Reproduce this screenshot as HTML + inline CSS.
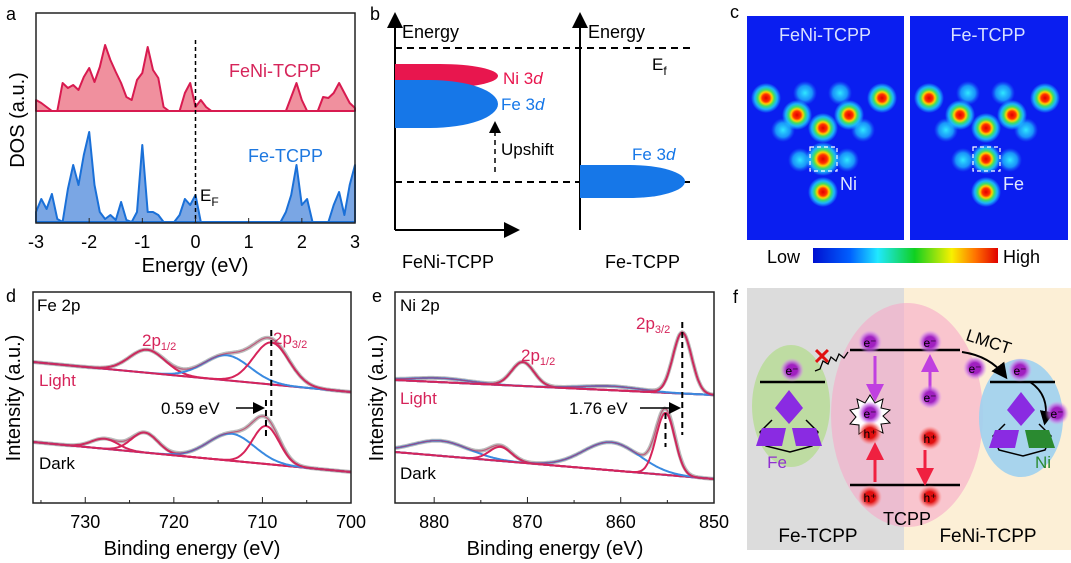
<!DOCTYPE html>
<html><head><meta charset="utf-8"><style>
body{margin:0;background:#fff}
svg{display:block;font-family:"Liberation Sans",Arial,sans-serif}
</style></head><body>
<svg id="fig" width="1071" height="563" viewBox="0 0 1071 563" xmlns="http://www.w3.org/2000/svg">
<defs>
<radialGradient id="hot"><stop offset="0" stop-color="#e00000"/><stop offset="0.25" stop-color="#ff3000"/><stop offset="0.4" stop-color="#ffd000"/><stop offset="0.55" stop-color="#40e060"/><stop offset="0.75" stop-color="#20d8ff" stop-opacity="0.8"/><stop offset="1" stop-color="#20d8ff" stop-opacity="0"/></radialGradient>
<radialGradient id="cyan"><stop offset="0" stop-color="#30e8ff"/><stop offset="0.6" stop-color="#20c8ff" stop-opacity="0.7"/><stop offset="1" stop-color="#2080ff" stop-opacity="0"/></radialGradient>
<linearGradient id="jet" x1="0" x2="1"><stop offset="0" stop-color="#0010d0"/><stop offset="0.2" stop-color="#0060ff"/><stop offset="0.35" stop-color="#20e8ff"/><stop offset="0.55" stop-color="#10d020"/><stop offset="0.75" stop-color="#f8f000"/><stop offset="0.88" stop-color="#ff7000"/><stop offset="1" stop-color="#e00000"/></linearGradient>
<radialGradient id="eglow"><stop offset="0.45" stop-color="#a020c0"/><stop offset="0.7" stop-color="#c060e0" stop-opacity="0.7"/><stop offset="1" stop-color="#e0a0f0" stop-opacity="0"/></radialGradient>
<radialGradient id="hglow"><stop offset="0.45" stop-color="#e01010"/><stop offset="0.7" stop-color="#f05050" stop-opacity="0.7"/><stop offset="1" stop-color="#ff9090" stop-opacity="0"/></radialGradient>
<marker id="ah" markerWidth="8" markerHeight="8" refX="6" refY="4" orient="auto"><path d="M0,0 L8,4 L0,8 z" fill="#000"/></marker>
<marker id="ahp" markerWidth="6" markerHeight="6" refX="4" refY="3" orient="auto"><path d="M0,0 L6,3 L0,6 z" fill="#c040e0"/></marker>
<marker id="ahr" markerWidth="6" markerHeight="6" refX="4" refY="3" orient="auto"><path d="M0,0 L6,3 L0,6 z" fill="#f02040"/></marker>
</defs>

<!-- Panel a -->
<g>
<text x="6" y="20" font-size="18">a</text>
<g id="dosA"></g>
<rect x="36" y="13" width="319" height="210" fill="none" stroke="#222" stroke-width="1.5"/>
<line x1="195.5" y1="40" x2="195.5" y2="223" stroke="#000" stroke-width="1.5" stroke-dasharray="4,3"/>
<text x="229" y="77" font-size="18" fill="#d6245a">FeNi-TCPP</text>
<text x="248" y="162" font-size="18" fill="#1e78e0">Fe-TCPP</text>
<text x="200" y="201" font-size="17">E<tspan font-size="12" dy="5">F</tspan></text>
<g id="ticksA" font-size="18" text-anchor="middle"></g>
<text x="195" y="272" font-size="20" text-anchor="middle">Energy (eV)</text>
<text transform="translate(24,120) rotate(-90)" font-size="20" text-anchor="middle">DOS (a.u.)</text>
</g>

<!-- Panel b -->
<g>
<text x="370" y="20" font-size="18">b</text>
<line x1="395" y1="230" x2="395" y2="16" stroke="#000" stroke-width="2" marker-end="url(#ah)"/>
<line x1="395" y1="230" x2="516" y2="230" stroke="#000" stroke-width="2" marker-end="url(#ah)"/>
<line x1="580" y1="230" x2="580" y2="16" stroke="#000" stroke-width="2" marker-end="url(#ah)"/>
<text x="402" y="38" font-size="18">Energy</text>
<text x="588" y="38" font-size="18">Energy</text>
<line x1="395" y1="48" x2="690" y2="48" stroke="#000" stroke-width="2" stroke-dasharray="7,5"/>
<line x1="395" y1="182" x2="690" y2="182" stroke="#000" stroke-width="2" stroke-dasharray="7,5"/>
<path d="M395,64 L440,64 A58,12 0 0 1 440,88 L395,88 Z" fill="#e8164e"/>
<path d="M395,80 L430,80 A68,24 0 0 1 430,128 L395,128 Z" fill="#1677e8"/>
<text x="503" y="84" font-size="17" fill="#e8164e">Ni 3<tspan font-style="italic">d</tspan></text>
<text x="501" y="110" font-size="17" fill="#1677e8">Fe 3<tspan font-style="italic">d</tspan></text>
<line x1="495" y1="172" x2="495" y2="124" stroke="#000" stroke-width="1.5" stroke-dasharray="5,4" marker-end="url(#ah)"/>
<text x="501" y="155" font-size="17">Upshift</text>
<path d="M580,165 L630,165 A55,16.5 0 0 1 630,198 L580,198 Z" fill="#1677e8"/>
<text x="632" y="160" font-size="17" fill="#1677e8">Fe 3<tspan font-style="italic">d</tspan></text>
<text x="652" y="70" font-size="17">E<tspan font-size="12" dy="5">f</tspan></text>
<text x="402" y="268" font-size="18">FeNi-TCPP</text>
<text x="605" y="268" font-size="18">Fe-TCPP</text>
</g>

<!-- Panel c -->
<g>
<text x="730" y="18" font-size="18">c</text>
<rect x="747" y="16" width="157" height="224" fill="#0a1ef0"/>
<rect x="910" y="16" width="158" height="224" fill="#0a1ef0"/>
<g id="blobs"></g>
<text x="825" y="41" font-size="18" fill="#d8e0ff" text-anchor="middle">FeNi-TCPP</text>
<text x="988" y="41" font-size="18" fill="#d8e0ff" text-anchor="middle">Fe-TCPP</text>
<rect x="810" y="147" width="27" height="24" fill="none" stroke="#fff" stroke-width="1.2" stroke-dasharray="4,3"/>
<rect x="973" y="147" width="27" height="24" fill="none" stroke="#fff" stroke-width="1.2" stroke-dasharray="4,3"/>
<text x="840" y="190" font-size="18" fill="#e0e8ff">Ni</text>
<text x="1003" y="190" font-size="18" fill="#e0e8ff">Fe</text>
<rect x="813" y="248" width="185" height="15" fill="url(#jet)"/>
<text x="767" y="263" font-size="18">Low</text>
<text x="1003" y="263" font-size="18">High</text>
</g>

<!-- Panel d -->
<g>
<text x="6" y="302" font-size="18">d</text>
<g id="xpsD"></g>
<rect x="33" y="292" width="318" height="211" fill="none" stroke="#222" stroke-width="1.5"/>
<text x="37" y="311" font-size="17">Fe 2p</text>
<text x="142" y="346" font-size="17" fill="#d6245a">2p<tspan font-size="11" dy="4">1/2</tspan></text>
<text x="273" y="344" font-size="17" fill="#d6245a">2p<tspan font-size="11" dy="4">3/2</tspan></text>
<text x="39" y="386" font-size="17" fill="#d6245a">Light</text>
<text x="39" y="469" font-size="17">Dark</text>
<text x="161" y="414" font-size="17">0.59 eV</text>
<line x1="236" y1="408" x2="262" y2="408" stroke="#000" stroke-width="1.5" marker-end="url(#ah)"/>
<g id="ticksD" font-size="18" text-anchor="middle"></g>
<text x="192" y="555" font-size="20" text-anchor="middle">Binding energy (eV)</text>
<text transform="translate(20,398) rotate(-90)" font-size="20" text-anchor="middle">Intensity (a.u.)</text>
</g>

<!-- Panel e -->
<g>
<text x="372" y="302" font-size="18">e</text>
<g id="xpsE"></g>
<rect x="395" y="292" width="319" height="211" fill="none" stroke="#222" stroke-width="1.5"/>
<text x="400" y="311" font-size="17">Ni 2p</text>
<text x="636" y="329" font-size="17" fill="#d6245a">2p<tspan font-size="11" dy="4">3/2</tspan></text>
<text x="521" y="361" font-size="17" fill="#d6245a">2p<tspan font-size="11" dy="4">1/2</tspan></text>
<text x="400" y="404" font-size="17" fill="#d6245a">Light</text>
<text x="400" y="479" font-size="17">Dark</text>
<text x="569" y="414" font-size="17">1.76 eV</text>
<line x1="640" y1="408" x2="678" y2="408" stroke="#000" stroke-width="1.5" marker-end="url(#ah)"/>
<g id="ticksE" font-size="18" text-anchor="middle"></g>
<text x="555" y="555" font-size="20" text-anchor="middle">Binding energy (eV)</text>
<text transform="translate(383,398) rotate(-90)" font-size="20" text-anchor="middle">Intensity (a.u.)</text>
</g>

<!-- Panel f -->
<g>
<text x="733" y="303" font-size="18">f</text>
<rect x="747" y="288" width="157" height="262" fill="#dcdcdc"/>
<rect x="904" y="288" width="167" height="262" fill="#fcefd6"/>
<ellipse cx="907" cy="415" rx="76" ry="112" fill="#f6a8c8" opacity="0.6"/>
<ellipse cx="791" cy="406" rx="39" ry="61" fill="#b8dc98" opacity="0.85"/>
<ellipse cx="1021" cy="418" rx="42" ry="59" fill="#9fd0f0" opacity="0.9"/>
<line x1="850" y1="350" x2="960" y2="350" stroke="#000" stroke-width="2.5"/>
<line x1="760" y1="382" x2="825" y2="382" stroke="#000" stroke-width="2.5"/>
<line x1="990" y1="382" x2="1055" y2="382" stroke="#000" stroke-width="2.5"/>
<line x1="850" y1="485" x2="960" y2="485" stroke="#000" stroke-width="2.5"/>
<path d="M772,420 L760,432 L766,446 L790,452 L812,446 L818,432 L806,420" fill="none" stroke="#000" stroke-width="1.5"/>
<polygon points="789,390 803,408 789,424 775,408" fill="#8a2be2"/>
<polygon points="762,428 786,428 782,446 756,446" fill="#8a2be2"/>
<polygon points="792,428 816,428 822,446 796,446" fill="#8a2be2"/>
<path d="M1005,424 L993,436 L999,450 L1023,456 L1045,450 L1051,436 L1039,424" fill="none" stroke="#000" stroke-width="1.5"/>
<polygon points="1021,392 1035,410 1021,426 1007,410" fill="#8a2be2"/>
<polygon points="995,430 1019,430 1015,448 989,448" fill="#8a2be2"/>
<polygon points="1025,430 1049,430 1055,448 1029,448" fill="#2a8a30"/>
<path d="M870,395 l5,8 l8,-4 l-2,9 l9,2 l-7,6 l7,7 l-9,1 l2,9 l-8,-4 l-4,8 l-5,-8 l-7,5 l0,-9 l-9,-1 l6,-7 l-6,-7 l9,-2 l-2,-9 l8,4 z" fill="#fff" stroke="#000" stroke-width="1"/>
<line x1="875" y1="356" x2="875" y2="396" stroke="#c040e0" stroke-width="3" marker-end="url(#ahp)"/>
<line x1="930" y1="392" x2="930" y2="360" stroke="#c040e0" stroke-width="3" marker-end="url(#ahp)"/>
<line x1="875" y1="482" x2="875" y2="448" stroke="#f02040" stroke-width="3" marker-end="url(#ahr)"/>
<line x1="925" y1="450" x2="925" y2="480" stroke="#f02040" stroke-width="3" marker-end="url(#ahr)"/>
<path d="M848,352 l-4,6 l-5,-4 l-3,7 l-5,-4 l-3,7 l-5,-3 l-3,8 l-5,2" fill="none" stroke="#000" stroke-width="1.3"/>
<text x="822" y="364" font-size="22" fill="#e01010" text-anchor="middle" font-weight="bold">✕</text>
<path d="M962,352 Q990,356 1005,376" fill="none" stroke="#000" stroke-width="2" marker-end="url(#ah)"/>
<path d="M1030,382 Q1050,395 1045,422" fill="none" stroke="#000" stroke-width="1.8" marker-end="url(#ah)"/>
<text x="965" y="340" font-size="17" transform="rotate(18 965 340)">LMCT</text>
<g id="carriers"></g>
<text x="777" y="468" font-size="17" fill="#9030d0" text-anchor="middle">Fe</text>
<text x="1043" y="468" font-size="17" fill="#2a8a30" text-anchor="middle">Ni</text>
<text x="907" y="525" font-size="18" text-anchor="middle">TCPP</text>
<text x="818" y="542" font-size="19" text-anchor="middle">Fe-TCPP</text>
<text x="988" y="542" font-size="19" text-anchor="middle">FeNi-TCPP</text>
</g>
</svg>
<script>
const NS="http://www.w3.org/2000/svg";
// ---- Panel a data ----
const dosEnergy=[];for(let i=0;i<=60;i++)dosEnergy.push(Math.round((-3+i*0.1)*10)/10);
const dosFeNi=[11,8,4,0,0,28,23,26,21,34,43,29,44,66,51,39,28,14,11,31,38,64,41,33,4,0,0,0,18,28,4,11,4,0,0,0,0,0,0,0,0,0,0,0,0,0,0,0,14,28,11,0,0,0,14,13,18,28,18,8,3];
const dosFe=[10,23,13,28,3,0,33,57,37,67,90,37,10,3,7,2,20,2,0,10,77,10,10,7,0,0,0,7,23,17,27,0,0,0,0,0,0,0,0,0,0,0,0,0,0,0,0,10,27,57,17,23,0,0,0,0,17,30,7,37,57];
const aTicks=["-3","-2","-1","0","1","2","3"];
// ---- Panel d data ----
const dLightBg=[141,111];
const dLightCenters=[723,714,709];
const dLightAmps=[23,25,42];
const dLightSig=[2.0,2.6,2.0];
const dDarkBg=[61,31];
const dDarkCenters=[727.8,723.3,713.5,709.6];
const dDarkAmps=[10,20,27,38];
const dDarkSig=[1.5,1.5,2.6,1.5];
const dTicks=[730,720,710,700];
// ---- Panel e data ----
const eLightBg=[123,108];
const eLightCenters=[879.3,870.5,861,853.4];
const eLightAmps=[4,24,4,61];
const eLightSig=[3,1.2,3,1.0];
const eDarkBg=[51,24];
const eDarkCenters=[879.3,872.9,861,855.2];
const eDarkAmps=[15,14,28,62];
const eDarkSig=[3,1.2,3,1.0];
const eTicks=[880,870,860,850];
function el(tag,attrs,parent){const e=document.createElementNS(NS,tag);for(const k in attrs)e.setAttribute(k,attrs[k]);parent.appendChild(e);return e;}
const xa=e=>36+(e+3)*(319/6);
const gA=document.getElementById('dosA');
function dosPath(vals,base){let d=`M${xa(dosEnergy[0])},${base}`;vals.forEach((v,i)=>{d+=` L${xa(dosEnergy[i]).toFixed(1)},${(base-v).toFixed(1)}`});return d+` L${xa(3)},${base} Z`;}
let p=el('path',{d:dosPath(dosFeNi,111),fill:'#f0909e',stroke:'#d81b50','stroke-width':2,'stroke-linejoin':'round'},gA);


p=el('path',{d:dosPath(dosFe,222),fill:'#7aa6e4',stroke:'#1a70d8','stroke-width':2,'stroke-linejoin':'round'},gA);


const tA=document.getElementById('ticksA');
aTicks.forEach(t=>{const x=xa(+t);el('line',{x1:x,y1:223,x2:x,y2:218,stroke:'#222'},tA);const tx=el('text',{x:x,y:248},tA);tx.textContent=t;});
function xps(gid,x0,x1,e0,e1,bg,cs,as,ss,ticks,tid){
  const g=document.getElementById(gid);
  const xs=e=>x0+(e0-e)/(e0-e1)*(x1-x0);
  const ys=v=>503-v;
  const bgv=e=>bg[0]+(bg[1]-bg[0])*(e0-e)/(e0-e1);
  const gs=(e,i)=>as[i]*Math.exp(-((e-cs[i])**2)/(2*ss[i]**2));
  const N=240;const pts=[];for(let k=0;k<=N;k++)pts.push(e0-(e0-e1)*k/N);
  const line=f=>pts.map((e,k)=>(k?'L':'M')+xs(e).toFixed(1)+','+ys(f(e)).toFixed(1)).join(' ');
  const env=e=>bgv(e)+cs.reduce((s,c,i)=>s+gs(e,i),0);
  let q=el('path',{d:line(env),fill:'none',stroke:'#aaa','stroke-width':4,opacity:0.8},g);
  
  
  q=el('path',{d:line(bgv),fill:'none',stroke:'#3a5fd0','stroke-width':2},g);
  
  
  cs.forEach((c,i)=>{const red=ss[i]<2.1;q=el('path',{d:line(e=>bgv(e)+gs(e,i)),fill:'none',stroke:red?'#d6245a':'#3a8ae0','stroke-width':2},g);
    
    });
  q=el('path',{d:line(env),fill:'none',stroke:'#c03060','stroke-width':1.2,opacity:0.7},g);
  
  
  if(tid){const t=document.getElementById(tid);
    for(let v=ticks[0]+5;v>=ticks[ticks.length-1]-5;v-=5){if(v<=e0&&v>=e1){const x=xs(v);el('line',{x1:x,y1:503,x2:x,y2:v%10?500:497,stroke:'#222'},t);}}
    ticks.forEach(v=>{const x=xs(v);const tx=el('text',{x:x,y:528},t);tx.textContent=v;});}
  return xs;
}
const xd=xps('xpsD',33,351,735.9,700,dLightBg,dLightCenters,dLightAmps,dLightSig,dTicks,'ticksD');
xps('xpsD',33,351,735.9,700,dDarkBg,dDarkCenters,dDarkAmps,dDarkSig,dTicks,null);
const xe=xps('xpsE',395,714,884.2,850,eLightBg,eLightCenters,eLightAmps,eLightSig,eTicks,'ticksE');
xps('xpsE',395,714,884.2,850,eDarkBg,eDarkCenters,eDarkAmps,eDarkSig,eTicks,null);
const gd=document.getElementById('xpsD'),ge=document.getElementById('xpsE');
el('line',{x1:xd(dLightCenters[2]),y1:330,x2:xd(dLightCenters[2]),y2:420,stroke:'#000','stroke-width':2,'stroke-dasharray':'6,4'},gd);
el('line',{x1:xd(dDarkCenters[3]),y1:400,x2:xd(dDarkCenters[3]),y2:438,stroke:'#000','stroke-width':2,'stroke-dasharray':'6,4'},gd);
el('line',{x1:xe(eLightCenters[3]),y1:322,x2:xe(eLightCenters[3]),y2:435,stroke:'#000','stroke-width':2,'stroke-dasharray':'6,4'},ge);
el('line',{x1:xe(eDarkCenters[3]),y1:413,x2:xe(eDarkCenters[3]),y2:447,stroke:'#000','stroke-width':2,'stroke-dasharray':'6,4'},ge);
const gb=document.getElementById('blobs');
[[0,'Ni'],[163,'Fe']].forEach(([o,m])=>{
 [[805,93],[840,93],[783,130],[863,130],[800,160],[847,160]].forEach(([x,y])=>el('circle',{cx:x+o,cy:y,r:12,fill:'url(#cyan)'},gb));
 [[766,98],[797,115],[849,115],[882,98],[823,128],[823,159],[823,192]].forEach(([x,y],i)=>el('circle',{cx:x+o,cy:y,r:(i==5&&m=='Ni')?17:15,fill:'url(#hot)'},gb));
});
const gc=document.getElementById('carriers');
function carrier(x,y,type){el('circle',{cx:x,cy:y,r:12,fill:type=='e'?'url(#eglow)':'url(#hglow)'},gc);const t=el('text',{x:x,y:y+5,'font-size':12,'text-anchor':'middle',fill:'#000'},gc);t.textContent=type=='e'?'e⁻':'h⁺';}
[[870,342],[930,342],[792,370],[975,368],[1020,370],[930,397],[870,413],[1057,413]].forEach(a=>carrier(a[0],a[1],'e'));
[[870,433],[930,438],[870,497],[930,497]].forEach(a=>carrier(a[0],a[1],'h'));
</script>
</body></html>
